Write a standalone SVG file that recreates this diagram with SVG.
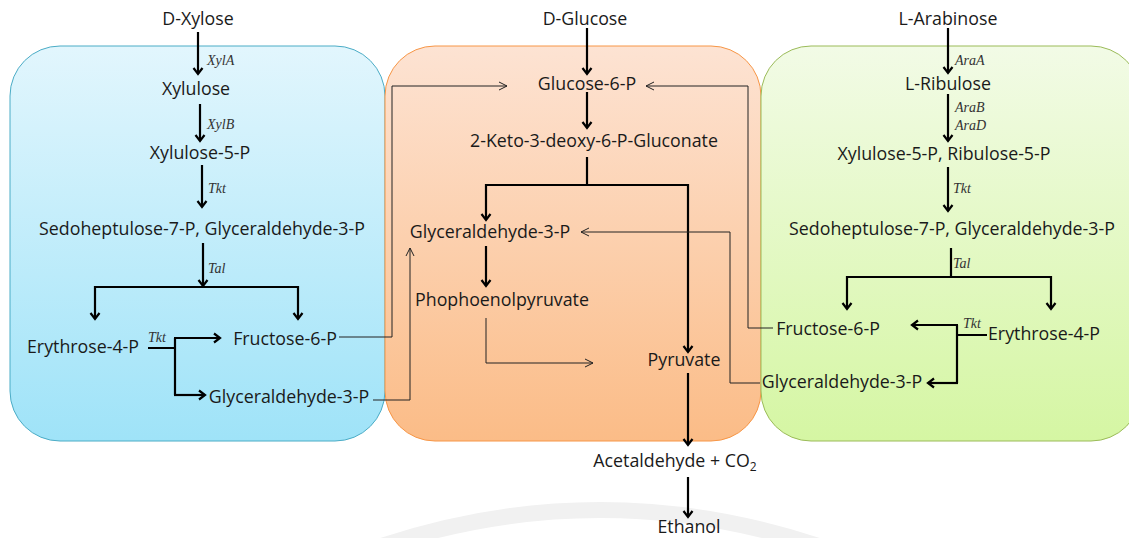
<svg xmlns="http://www.w3.org/2000/svg" width="1129" height="538" viewBox="0 0 1129 538">
<style>
.t{font-family:"Open Sans","Liberation Sans",sans-serif;font-size:17.8px;fill:#1a1a1a;text-anchor:middle}
.e{font-family:"Liberation Serif",serif;font-style:italic;font-size:14px;fill:#333}
.k{fill:none;stroke:#000;stroke-width:2.2}
.n{fill:none;stroke:#222;stroke-width:1}
</style>
<defs>
<linearGradient id="gb" x1="0" y1="0" x2="0" y2="1"><stop offset="0" stop-color="#e2f6fd"/><stop offset="1" stop-color="#9fe3f8"/></linearGradient>
<linearGradient id="go" x1="0" y1="0" x2="0" y2="1"><stop offset="0" stop-color="#fde3d3"/><stop offset="1" stop-color="#fbbc87"/></linearGradient>
<linearGradient id="gg" x1="0" y1="0" x2="0" y2="1"><stop offset="0" stop-color="#f2fbe6"/><stop offset="1" stop-color="#d5f6a3"/></linearGradient>
<marker id="ak" markerUnits="userSpaceOnUse" viewBox="-8 -6 10 12" markerWidth="10" markerHeight="12" refX="0" refY="0" orient="auto-start-reverse"><path d="M-6,-4.5 L0,0 L-6,4.5" fill="none" stroke="#000" stroke-width="2.2"/></marker>
<marker id="an" markerUnits="userSpaceOnUse" viewBox="-10 -6 12 12" markerWidth="12" markerHeight="12" refX="0" refY="0" orient="auto"><path d="M-8,-4 L0,0 L-8,4" fill="none" stroke="#222" stroke-width="1"/></marker>
</defs>
<rect width="1129" height="538" fill="#fff"/>
<g id="watermark" fill="none" stroke="#f1f1f1" stroke-width="16">
<path d="M330,565 Q600,455 870,565"/>
</g>
<g id="panel-xylose"><rect x="10" y="46" width="375" height="395" rx="50" fill="url(#gb)" stroke="#4bacc6" stroke-width="1"/></g>
<g id="panel-glucose"><rect x="385" y="46" width="376" height="395" rx="50" fill="url(#go)" stroke="#f79646" stroke-width="1"/></g>
<g id="panel-arabinose"><rect x="761" y="46" width="380" height="395" rx="50" fill="url(#gg)" stroke="#9bbb59" stroke-width="1"/></g>

<g id="connectors">
<line class="k" x1="198" y1="32" x2="198" y2="74" marker-end="url(#ak)"/>
<line class="k" x1="200" y1="104" x2="200" y2="141" marker-end="url(#ak)"/>
<line class="k" x1="202" y1="165" x2="202" y2="207" marker-end="url(#ak)"/>
<line class="k" x1="203" y1="243" x2="203" y2="286" marker-end="url(#ak)"/>
<path class="k" d="M95,319 V287 H298 V319" marker-start="url(#ak)" marker-end="url(#ak)"/>
<path class="k" d="M148,348 H175 M175,395 V338"/>
<line class="k" x1="174" y1="338" x2="220" y2="338" marker-end="url(#ak)"/>
<line class="k" x1="174" y1="395" x2="205" y2="395" marker-end="url(#ak)"/>
<path class="n" d="M339,337 H392 V86 H507" marker-end="url(#an)"/>
<path class="n" d="M373,400 H410 V248" marker-end="url(#an)"/>
<line class="k" x1="587" y1="28" x2="587" y2="74" marker-end="url(#ak)"/>
<line class="k" x1="587" y1="92" x2="587" y2="128" marker-end="url(#ak)"/>
<path class="k" d="M587,157 V185"/>
<path class="k" d="M486,220 V185 H688 V352" marker-start="url(#ak)" marker-end="url(#ak)"/>
<line class="k" x1="486" y1="246" x2="486" y2="286" marker-end="url(#ak)"/>
<path class="n" d="M486,318 V363 H593" marker-end="url(#an)"/>
<line class="k" x1="688" y1="373" x2="688" y2="445" marker-end="url(#ak)"/>
<line class="k" x1="688" y1="477" x2="688" y2="517" marker-end="url(#ak)"/>
<line class="k" x1="948" y1="28" x2="948" y2="73" marker-end="url(#ak)"/>
<line class="k" x1="948" y1="94" x2="948" y2="141" marker-end="url(#ak)"/>
<line class="k" x1="948" y1="167" x2="948" y2="211" marker-end="url(#ak)"/>
<path class="k" d="M951,248 V277"/>
<path class="k" d="M847,309 V277 H1051 V309" marker-start="url(#ak)" marker-end="url(#ak)"/>
<path class="k" d="M987,335 H957 M957,325 V383"/>
<line class="k" x1="958" y1="325" x2="912" y2="325" marker-end="url(#ak)"/>
<line class="k" x1="958" y1="383" x2="928" y2="383" marker-end="url(#ak)"/>
<path class="n" d="M773,328 H748 V86 H646" marker-end="url(#an)"/>
<path class="n" d="M760,383 H730 V232 H581" marker-end="url(#an)"/>
</g>

<g id="enzymes">
<text class="e" x="207" y="65">XylA</text>
<text class="e" x="207" y="129">XylB</text>
<text class="e" x="208" y="193">Tkt</text>
<text class="e" x="208" y="273">Tal</text>
<text class="e" x="148" y="342">Tkt</text>
<text class="e" x="955" y="65">AraA</text>
<text class="e" x="955" y="112">AraB</text>
<text class="e" x="955" y="130">AraD</text>
<text class="e" x="953" y="193">Tkt</text>
<text class="e" x="953" y="268">Tal</text>
<text class="e" x="963" y="328">Tkt</text>
</g>

<g id="n-dxylose"><text class="t" x="198" y="25">D-Xylose</text></g>
<g id="n-xylulose"><text class="t" x="196" y="95">Xylulose</text></g>
<g id="n-xylulose5p"><text class="t" x="200" y="159">Xylulose-5-P</text></g>
<g id="n-sedo-left"><text class="t" x="202" y="235">Sedoheptulose-7-P, Glyceraldehyde-3-P</text></g>
<g id="n-erythrose-left"><text class="t" x="83" y="353">Erythrose-4-P</text></g>
<g id="n-fructose-left"><text class="t" x="285" y="345">Fructose-6-P</text></g>
<g id="n-g3p-left"><text class="t" x="289" y="403">Glyceraldehyde-3-P</text></g>

<g id="n-dglucose"><text class="t" x="585" y="25">D-Glucose</text></g>
<g id="n-g6p"><text class="t" x="587" y="90">Glucose-6-P</text></g>
<g id="n-kdpg"><text class="t" x="594" y="147">2-Keto-3-deoxy-6-P-Gluconate</text></g>
<g id="n-g3p-mid"><text class="t" x="490" y="238">Glyceraldehyde-3-P</text></g>
<g id="n-pep"><text class="t" x="502" y="306">Phophoenolpyruvate</text></g>
<g id="n-pyruvate"><text class="t" x="684" y="366">Pyruvate</text></g>
<g id="n-acetaldehyde"><text class="t" x="675" y="467">Acetaldehyde + CO<tspan font-size="12" dy="4">2</tspan></text></g>
<g id="n-ethanol"><text class="t" x="689" y="533">Ethanol</text></g>

<g id="n-larabinose"><text class="t" x="948" y="25">L-Arabinose</text></g>
<g id="n-lribulose"><text class="t" x="948" y="90">L-Ribulose</text></g>
<g id="n-x5p-r5p"><text class="t" x="944" y="160">Xylulose-5-P, Ribulose-5-P</text></g>
<g id="n-sedo-right"><text class="t" x="952" y="235">Sedoheptulose-7-P, Glyceraldehyde-3-P</text></g>
<g id="n-fructose-right"><text class="t" x="828" y="335">Fructose-6-P</text></g>
<g id="n-erythrose-right"><text class="t" x="1044" y="340">Erythrose-4-P</text></g>
<g id="n-g3p-right"><text class="t" x="842" y="388">Glyceraldehyde-3-P</text></g>
</svg>
